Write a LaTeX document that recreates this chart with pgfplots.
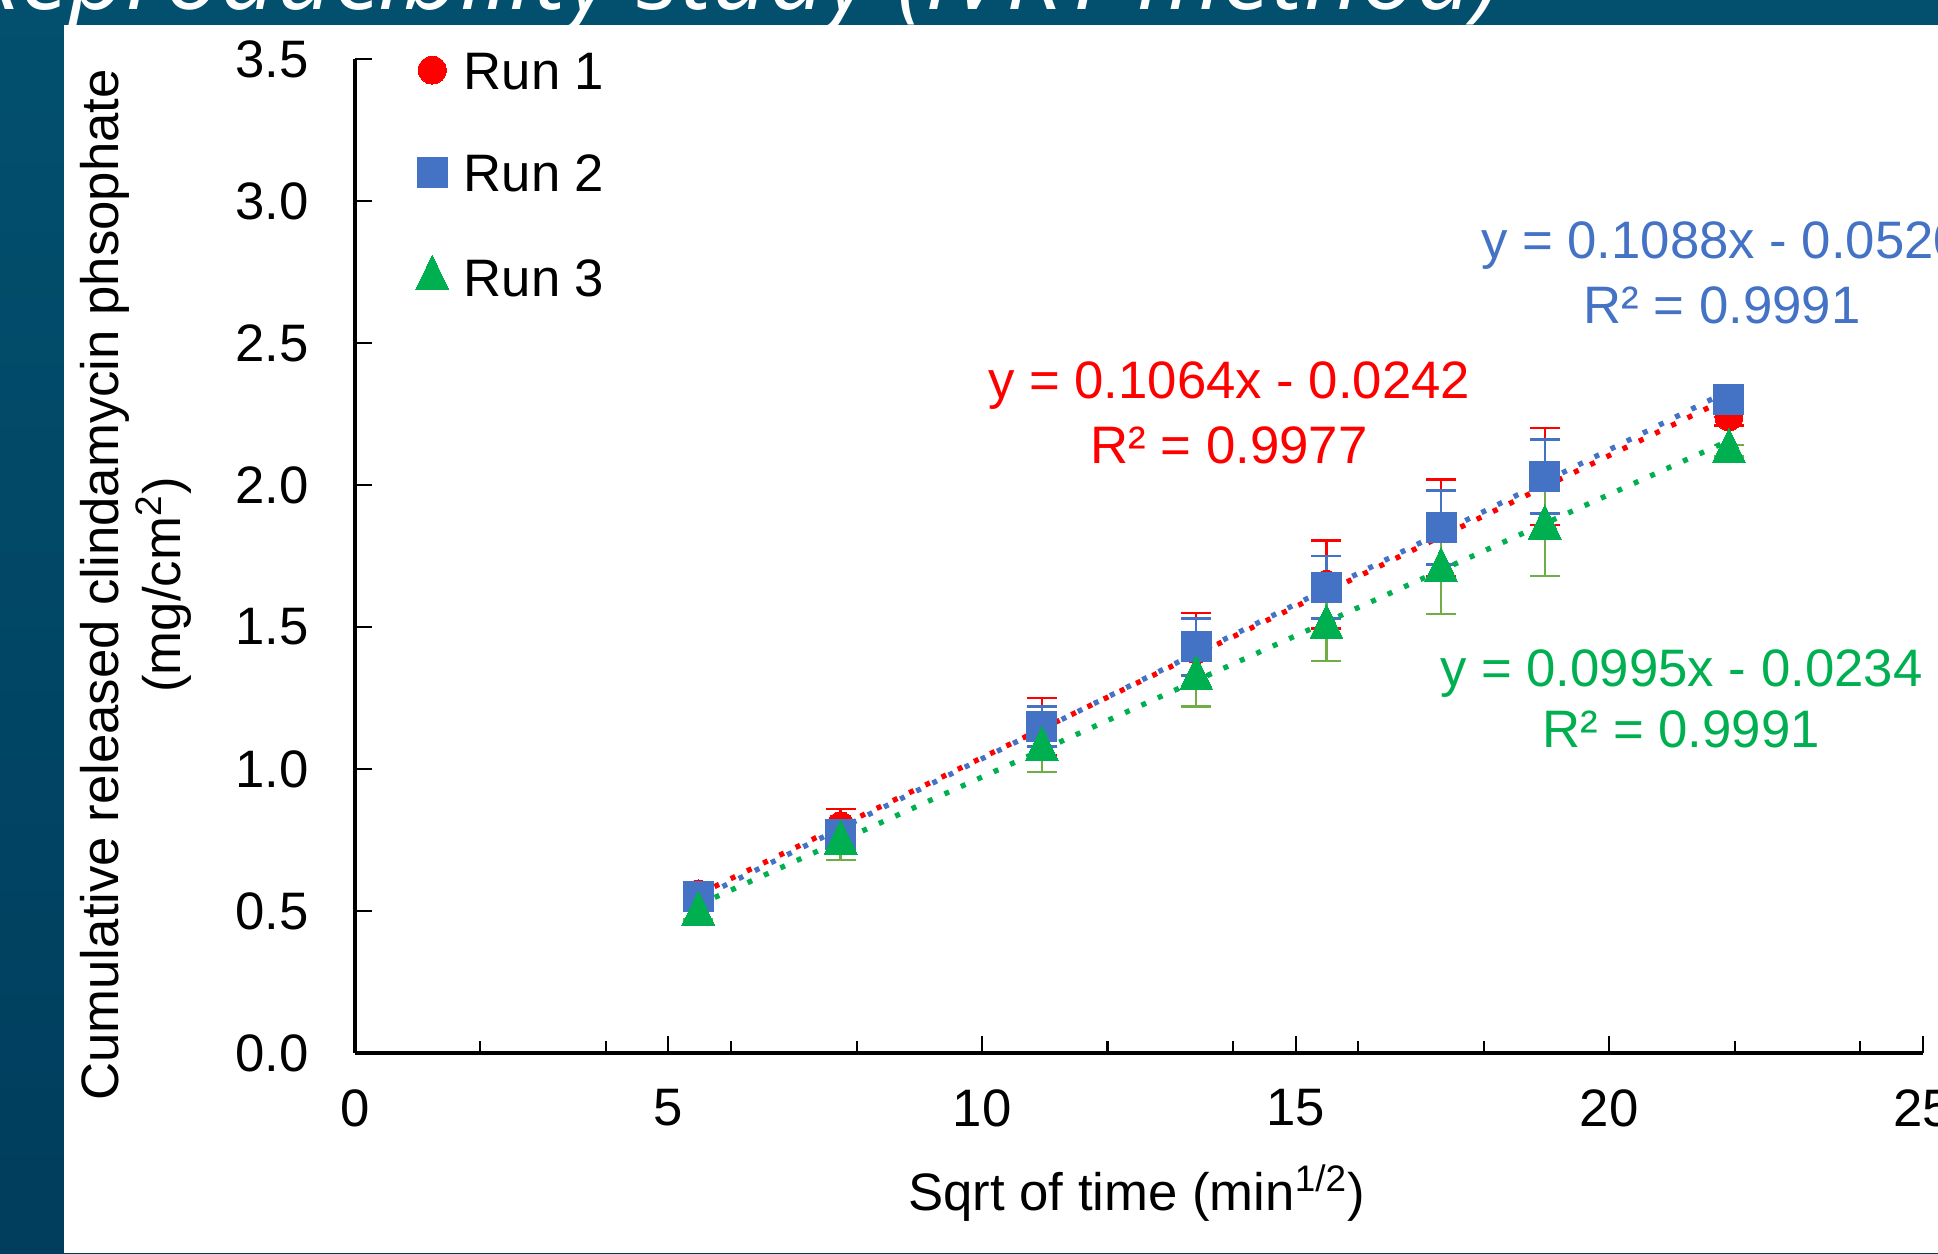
\documentclass[border=0pt]{standalone}
\usepackage{fontspec}
\setmainfont{Liberation Sans}
\newfontfamily\titlefont{Open Sans}
\usepackage{pgfplots}
\usepackage{pgfplotstable}
\pgfplotsset{compat=1.18}
\definecolor{bgtop}{HTML}{02506E}
\definecolor{bgbot}{HTML}{013D5D}
\definecolor{rone}{HTML}{FF0000}
\definecolor{rtwo}{HTML}{4472C4}
\definecolor{rthree}{HTML}{00B050}
\definecolor{ebthree}{HTML}{70AD47}

\pgfplotstableread{
x y e
5.477 0.56 0.02
7.746 0.80 0.06
10.954 1.15 0.10
13.416 1.42 0.13
15.492 1.65 0.155
17.321 1.85 0.17
18.974 2.03 0.17
21.909 2.24 0.03
}\runone
\pgfplotstableread{
x y e
5.477 0.55 0.02
7.746 0.77 0.04
10.954 1.15 0.07
13.416 1.43 0.10
15.492 1.64 0.11
17.321 1.85 0.13
18.974 2.03 0.13
21.909 2.30 0.03
}\runtwo
\pgfplotstableread{
x y e
5.477 0.49 0.02
7.746 0.74 0.06
10.954 1.07 0.08
13.416 1.32 0.10
15.492 1.50 0.12
17.321 1.70 0.155
18.974 1.85 0.17
21.909 2.12 0.02
}\runthree

\begin{document}
\begin{tikzpicture}
\useasboundingbox (0,0) rectangle (19.38,12.53);
\clip (0,0) rectangle (19.38,12.53);
\shade[top color=bgtop, bottom color=bgbot] (0,0) rectangle (19.38,12.53);
\fill[bgtop] (0,12.28) rectangle (19.38,12.53);
\fill[white] (0.64,0) rectangle (19.38,12.28);
\node[anchor=base east, text=white, font=\titlefont\itshape\fontsize{28}{32}\selectfont, inner sep=0pt] at (15.02,12.435) {Reproducibility study (IVRT method)};
\begin{axis}[
  at={(3.548cm,2.0cm)}, anchor=south west, scale only axis,
  width=15.68cm, height=9.94cm,
  xmin=0, xmax=25, ymin=0, ymax=3.5,
  clip=false,
  axis lines=left,
  axis line style={-, line width=1.15pt, black},
  xtick={0,5,...,25},
  minor xtick={2,4,...,24},
  ytick={0,0.5,...,3.5},
  tick align=inside,
  major tick length=0.17cm,
  minor tick length=0.12cm,
  every tick/.style={black, line width=0.6pt},
  /pgf/number format/assume math mode=true,
  yticklabel={\pgfmathprintnumber[fixed, fixed zerofill, precision=1]{\tick}},
  xticklabel style={yshift=-0.24cm},
  yticklabel style={xshift=-0.34cm},
  every tick label/.append style={font=\fontsize{15}{18}\selectfont},
  xlabel={Sqrt of time (min\textsuperscript{1/2})},
  xlabel style={at={(rel axis cs:0.4987,-0.141)}, anchor=center, font=\fontsize{15}{18}\selectfont},
  ylabel={Cumulative released clindamycin phsophate\\(mg/cm\textsuperscript{2})},
  ylabel style={at={(rel axis cs:-0.1397,0.471)}, anchor=center, align=center, font=\fontsize{15}{17.6}\selectfont},
  legend image code/.code={\draw[#1] plot coordinates {(0.15cm,0cm)};},
  legend cell align=left,
  legend style={draw=none, fill=none, inner sep=0pt, outer sep=0pt,
    row sep=0.64cm, column sep=0.15cm,
    nodes={inner sep=0pt, text height=0.38cm, text depth=0pt, font=\fontsize{15}{18}\selectfont, text=black},
    at={(rel axis cs:0.0389,1.008)}, anchor=north west},
]
\addplot[color=rone, only marks, mark=*, mark size=0.14cm, mark options={draw=rone, fill=rone, line width=0pt},
  error bars/.cd, y dir=both, y explicit,
  error bar style={rone, line width=0.7pt},
  error mark options={rotate=90, mark size=0.15cm, line width=0.7pt, rone}]
  table[x=x, y=y, y error=e] {\runone};
\addlegendentry{Run 1}
\addplot[color=rtwo, only marks, mark=square*, mark size=0.15cm, mark options={draw=rtwo, fill=rtwo, line width=0pt},
  error bars/.cd, y dir=both, y explicit,
  error bar style={rtwo, line width=0.7pt},
  error mark options={rotate=90, mark size=0.15cm, line width=0.7pt, rtwo}]
  table[x=x, y=y, y error=e] {\runtwo};
\addlegendentry{Run 2}
\addplot[color=rthree, only marks, mark=triangle*, mark size=0.19cm, mark options={draw=rthree, fill=rthree, line width=0pt, yscale=1.2},
  error bars/.cd, y dir=both, y explicit,
  error bar style={ebthree, line width=0.7pt},
  error mark options={rotate=90, mark size=0.15cm, line width=0.7pt, ebthree}]
  table[x=x, y=y, y error=e] {\runthree};
\addlegendentry{Run 3}
% trendlines (endpoints of fitted lines over the data range)
\addplot[forget plot, rone, line width=1.5pt, dash pattern=on 0.05cm off 0.13cm] coordinates {(5.477,0.5586) (21.909,2.3069)};
\addplot[forget plot, rtwo, line width=1.5pt, dash pattern=on 0.05cm off 0.13cm, dash phase=0.09cm] coordinates {(5.477,0.544) (21.909,2.332)};
\addplot[forget plot, rthree, line width=1.5pt, dash pattern=on 0.05cm off 0.13cm] coordinates {(5.477,0.5216) (21.909,2.1565)};
% trendline labels
\node[rone, anchor=base, inner sep=0pt, font=\fontsize{15}{18}\selectfont] at (axis cs:13.94,2.303) {y = 0.1064x - 0.0242};
\node[rone, anchor=base, inner sep=0pt, font=\fontsize{15}{18}\selectfont] at (axis cs:13.94,2.077) {R² = 0.9977};
\node[rtwo, anchor=base, inner sep=0pt, font=\fontsize{15}{18}\selectfont] at (axis cs:21.80,2.799) {y = 0.1088x - 0.0520};
\node[rtwo, anchor=base, inner sep=0pt, font=\fontsize{15}{18}\selectfont] at (axis cs:21.80,2.569) {R² = 0.9991};
\node[rthree, anchor=base, inner sep=0pt, font=\fontsize{15}{18}\selectfont] at (axis cs:21.15,1.289) {y = 0.0995x - 0.0234};
\node[rthree, anchor=base, inner sep=0pt, font=\fontsize{15}{18}\selectfont] at (axis cs:21.15,1.074) {R² = 0.9991};
\end{axis}
\end{tikzpicture}
\end{document}
